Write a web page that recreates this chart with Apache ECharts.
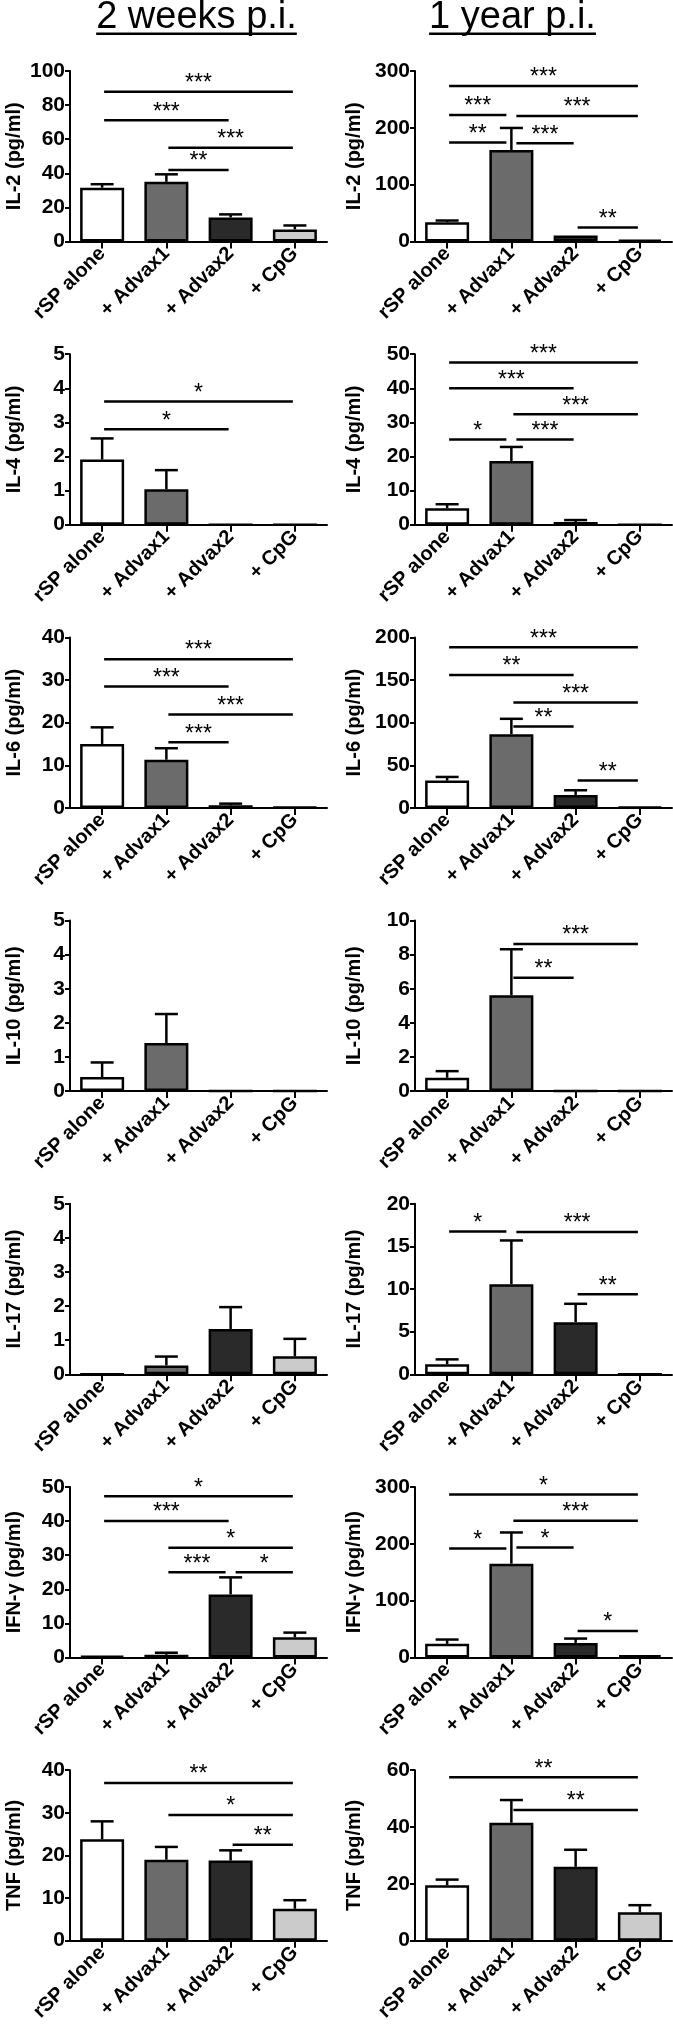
<!DOCTYPE html>
<html><head><meta charset="utf-8">
<script src="https://cdn.jsdelivr.net/npm/echarts@6/dist/echarts.min.js"></script>
<style>html,body{margin:0;padding:0;background:#fff}#c{width:673px;height:2031px}</style>
</head><body><div id="c"></div>
<script>
const categories = ['rSP alone', '+ Advax1', '+ Advax2', '+ CpG'];
const timepoints = ['2 weeks p.i.', '1 year p.i.'];
const cytokines = ['IL-2', 'IL-4', 'IL-6', 'IL-10', 'IL-17', 'IFN-γ', 'TNF'];
const barColors = ['#ffffff', '#6b6b6b', '#2a2a2a', '#cbcbcb'];

// 2 weeks p.i.
const week2Max = [100, 5, 40, 5, 5, 50, 40];
const week2Step = [20, 1, 10, 1, 1, 10, 10];
const week2Mean = [
  [31.5, 35, 14.1, 7.1],
  [1.91, 1.04, 0, 0],
  [15.0, 11.3, 0.62, 0.15],
  [0.41, 1.41, 0, 0],
  [0, 0.26, 1.33, 0.53],
  [0.4, 0.8, 18.5, 5.95],
  [23.8, 19, 18.8, 7.5]
];
const week2Sem = [
  [2.1, 4.4, 1.8, 2.3],
  [0.62, 0.56, 0, 0],
  [3.9, 2.7, 0.38, 0.05],
  [0.43, 0.85, 0, 0],
  [0, 0.26, 0.64, 0.51],
  [0.2, 0.6, 5.0, 1.35],
  [4.2, 3, 2.4, 2]
];
const week2Sig = [
  [[0, 3, 87.8, '***'], [0, 2, 71.1, '***'], [1, 3, 55, '***'], [1, 2, 42, '**']],
  [[0, 3, 3.61, '*'], [0, 2, 2.80, '*']],
  [[0, 3, 34.9, '***'], [0, 2, 28.5, '***'], [1, 3, 21.9, '***'], [1, 2, 15.4, '***']],
  [],
  [],
  [[0, 3, 47.3, '*'], [0, 2, 40.0, '***'], [1, 3, 32.2, '*'], [1, 2, 25.0, '***'], [2, 3, 25.0, '*']],
  [[0, 3, 37, '**'], [1, 3, 29.5, '*'], [2, 3, 22.5, '**']]
];

// 1 year p.i.
const year1Max = [300, 50, 200, 10, 20, 300, 60];
const year1Step = [100, 10, 50, 2, 5, 100, 20];
const year1Mean = [
  [34, 161, 10.5, 2.9],
  [4.85, 18.7, 0.78, 0],
  [32, 86.5, 15.2, 1.2],
  [0.78, 5.62, 0, 0],
  [1.17, 10.57, 6.12, 0],
  [24, 165, 25.7, 4.1],
  [19.5, 41.5, 26, 10]
];
const year1Sem = [
  [2.9, 38.8, 1.2, 0.6],
  [1.15, 4.1, 0.58, 0],
  [4.3, 18, 5.5, 0.3],
  [0.39, 2.7, 0, 0],
  [0.58, 5.13, 2.15, 0],
  [7.6, 55, 7.6, 2.3],
  [2, 8, 6, 2.5]
];
const year1Sig = [
  [[0, 3, 273.6, '***'], [0, 1, 222.6, '***'], [1, 3, 221, '***'], [0, 1, 174, '**'], [1, 2, 173, '***'], [2, 3, 24.6, '**']],
  [[0, 3, 47.6, '***'], [0, 2, 40.0, '***'], [1, 3, 32.4, '***'], [0, 1, 25, '*'], [1, 2, 25, '***']],
  [[0, 3, 188.3, '***'], [0, 2, 155.9, '**'], [1, 3, 123.6, '***'], [1, 2, 95.5, '**'], [2, 3, 32, '**']],
  [[1, 3, 8.63, '***'], [1, 2, 6.65, '**']],
  [[0, 1, 16.75, '*'], [1, 3, 16.7, '***'], [2, 3, 9.4, '**']],
  [[0, 3, 287, '*'], [1, 3, 240.4, '***'], [0, 1, 191.8, '*'], [1, 2, 193.6, '*'], [2, 3, 46.8, '*']],
  [[0, 3, 57.5, '**'], [1, 3, 46, '**']]
];

const FONT = '"Liberation Sans", Arial, Helvetica, sans-serif';
const columns = [
  {max: week2Max, step: week2Step, mean: week2Mean, sem: week2Sem, sig: week2Sig, left: 70, nameGap: 46, titleX: 196.5},
  {max: year1Max, step: year1Step, mean: year1Mean, sem: year1Sem, sig: year1Sig, left: 415, nameGap: 51, titleX: 512.5}
];

const grids = [], xAxes = [], yAxes = [], series = [];
let g = 0;
columns.forEach((col, c) => {
  cytokines.forEach((cy, r) => {
    const ymax = col.max[r];
    grids.push({left: col.left, top: 71 + 283.2 * r, width: 257, height: 170.5, containLabel: false});
    xAxes.push({
      type: 'category', gridIndex: g, data: categories,
      axisLine: {show: true, lineStyle: {color: '#000', width: 2}},
      axisTick: {show: true, alignWithLabel: true, length: 7, lineStyle: {color: '#000', width: 2}},
      axisLabel: {interval: 0, rotate: 45, margin: 9, color: '#000', fontSize: 20, fontWeight: 'bold', fontFamily: FONT},
      splitLine: {show: false}
    });
    yAxes.push({
      type: 'value', gridIndex: g, min: 0, max: ymax, interval: col.step[r],
      name: cy + ' (pg/ml)', nameLocation: 'middle', nameGap: col.nameGap,
      nameTextStyle: {color: '#000', fontSize: 20, fontWeight: 'bold', fontFamily: FONT},
      axisLine: {show: true, lineStyle: {color: '#000', width: 2}},
      axisTick: {show: true, length: 5, lineStyle: {color: '#000', width: 2}},
      axisLabel: {color: '#000', fontSize: 21, fontWeight: 'bold', fontFamily: FONT, margin: 5},
      splitLine: {show: false}
    });
    const means = col.mean[r], sems = col.sem[r], sigs = col.sig[r];
    series.push({
      type: 'bar', xAxisIndex: g, yAxisIndex: g, barWidth: 44, z: 2,
      itemStyle: {borderColor: '#000', borderWidth: 2.5},
      data: means.map((v, k) => ({value: v, itemStyle: {color: barColors[k]}}))
    });
    series.push({
      type: 'custom', xAxisIndex: g, yAxisIndex: g, z: 3,
      encode: {x: 0, y: 1},
      data: means.map((v, k) => [k, v, sems[k]]),
      renderItem: (params, api) => {
        const cat = api.value(0), m = api.value(1), s = api.value(2);
        if (!(s > 0)) return;
        const p0 = api.coord([cat, m]), p1 = api.coord([cat, m + s]);
        if (p0[1] - p1[1] < 1.5) return;
        return {type: 'group', children: [
          {type: 'line', shape: {x1: p0[0], y1: p0[1], x2: p1[0], y2: p1[1]}, style: {stroke: '#000', lineWidth: 2.5}},
          {type: 'line', shape: {x1: p1[0] - 11.5, y1: p1[1], x2: p1[0] + 11.5, y2: p1[1]}, style: {stroke: '#000', lineWidth: 2.5}}
        ]};
      }
    });
    if (sigs.length) {
      series.push({
        type: 'custom', xAxisIndex: g, yAxisIndex: g, z: 4,
        encode: {x: 0, y: 1},
        data: sigs.map(s => [s[0], s[2]]),
        renderItem: (params, api) => {
          const s = sigs[params.dataIndex];
          const a = api.coord([s[0], s[2]]), b = api.coord([s[1], s[2]]);
          const tol = ymax * 0.03;
          const sharedL = sigs.some(o => o !== s && Math.abs(o[2] - s[2]) < tol && o[1] === s[0]);
          const sharedR = sigs.some(o => o !== s && Math.abs(o[2] - s[2]) < tol && o[0] === s[1]);
          const x1 = a[0] + (sharedL ? 5 : 2), x2 = b[0] - (sharedR ? 5 : 2);
          return {type: 'group', children: [
            {type: 'line', shape: {x1: x1, y1: a[1], x2: x2, y2: a[1]}, style: {stroke: '#000', lineWidth: 2.5}},
            {type: 'text', style: {x: (x1 + x2) / 2, y: a[1] - 8, text: s[3], align: 'center', verticalAlign: 'middle', font: '23px ' + FONT, fill: '#000'}}
          ]};
        }
      });
    }
    g++;
  });
});

const mctx = document.createElement('canvas').getContext('2d');
mctx.font = '38px ' + FONT;
const graphic = [];
timepoints.forEach((t, c) => {
  const cx = columns[c].titleX;
  const w = mctx.measureText(t).width;
  graphic.push({type: 'text', x: cx, y: 18, style: {text: t, font: '38px ' + FONT, fill: '#000', align: 'center', verticalAlign: 'middle'}});
  graphic.push({type: 'rect', shape: {x: cx - w / 2, y: 32.5, width: w, height: 2.5}, style: {fill: '#000'}});
});

const chart = echarts.init(document.getElementById('c'), null, {renderer: 'canvas'});
chart.setOption({
  animation: false,
  backgroundColor: '#fff',
  grid: grids, xAxis: xAxes, yAxis: yAxes, series: series, graphic: graphic
});
</script>
</body></html>
